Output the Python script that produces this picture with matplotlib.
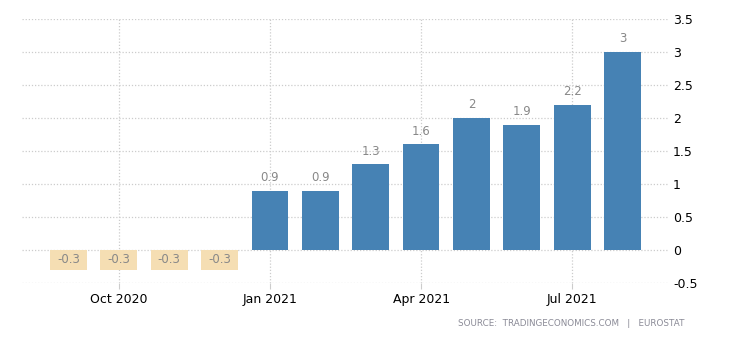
import matplotlib.pyplot as plt
import numpy as np

months = ['Sep 2020', 'Oct 2020', 'Nov 2020', 'Dec 2020', 'Jan 2021', 'Feb 2021',
          'Mar 2021', 'Apr 2021', 'May 2021', 'Jun 2021', 'Jul 2021', 'Aug 2021']
values = [-0.3, -0.3, -0.3, -0.3, 0.9, 0.9, 1.3, 1.6, 2.0, 1.9, 2.2, 3.0]
xtick_labels = ['Oct 2020', 'Jan 2021', 'Apr 2021', 'Jul 2021']
yticks = [-0.5, 0, 0.5, 1, 1.5, 2, 2.5, 3, 3.5]

plt.rcParams['font.family'] = ['DejaVu Sans']

fig = plt.figure(figsize=(7.3, 3.4), dpi=100)
ax = fig.add_axes([22/730, 1-283/340, (669-22)/730, (283-19)/340])

x = np.arange(len(values))
# negative months get a pale box with the label inside it
colors = ['#f5deb3' if v < 0 else '#4682b4' for v in values]
ax.bar(x, values, width=0.73, color=colors, zorder=2)

for xi, v in zip(x, values):
    lab = '%g' % v
    if v < 0:
        ax.text(xi, v/2, lab, ha='center', va='center', fontsize=8.5, color='#888888', zorder=3)
    else:
        ax.text(xi, v + 0.1, lab, ha='center', va='bottom', fontsize=8.5,
                color='#888888', zorder=3)

ax.set_xlim(-0.92, 11.92)
ax.set_ylim(-0.5, 3.5)
ax.set_xticks([months.index(m) for m in xtick_labels])
ax.set_xticklabels(xtick_labels)
ax.set_yticks(yticks)
ax.set_yticklabels(['%g' % t for t in yticks])
ax.yaxis.tick_right()

for s in ax.spines.values():
    s.set_visible(False)
ax.grid(True, color='#cccccc', linestyle=(0, (1, 1.5)), linewidth=0.9, zorder=0)
ax.tick_params(axis='y', length=0, pad=3, labelsize=9, labelcolor='black')
ax.tick_params(axis='x', length=4, color='#cccccc', pad=3, labelsize=9, labelcolor='black')

fig.text(685/730, 1-324/340, 'SOURCE:  TRADINGECONOMICS.COM   |   EUROSTAT',
         ha='right', va='center', fontsize=6.3, color='#8a8a96')

plt.savefig('out.png', dpi=100)
plt.close()
